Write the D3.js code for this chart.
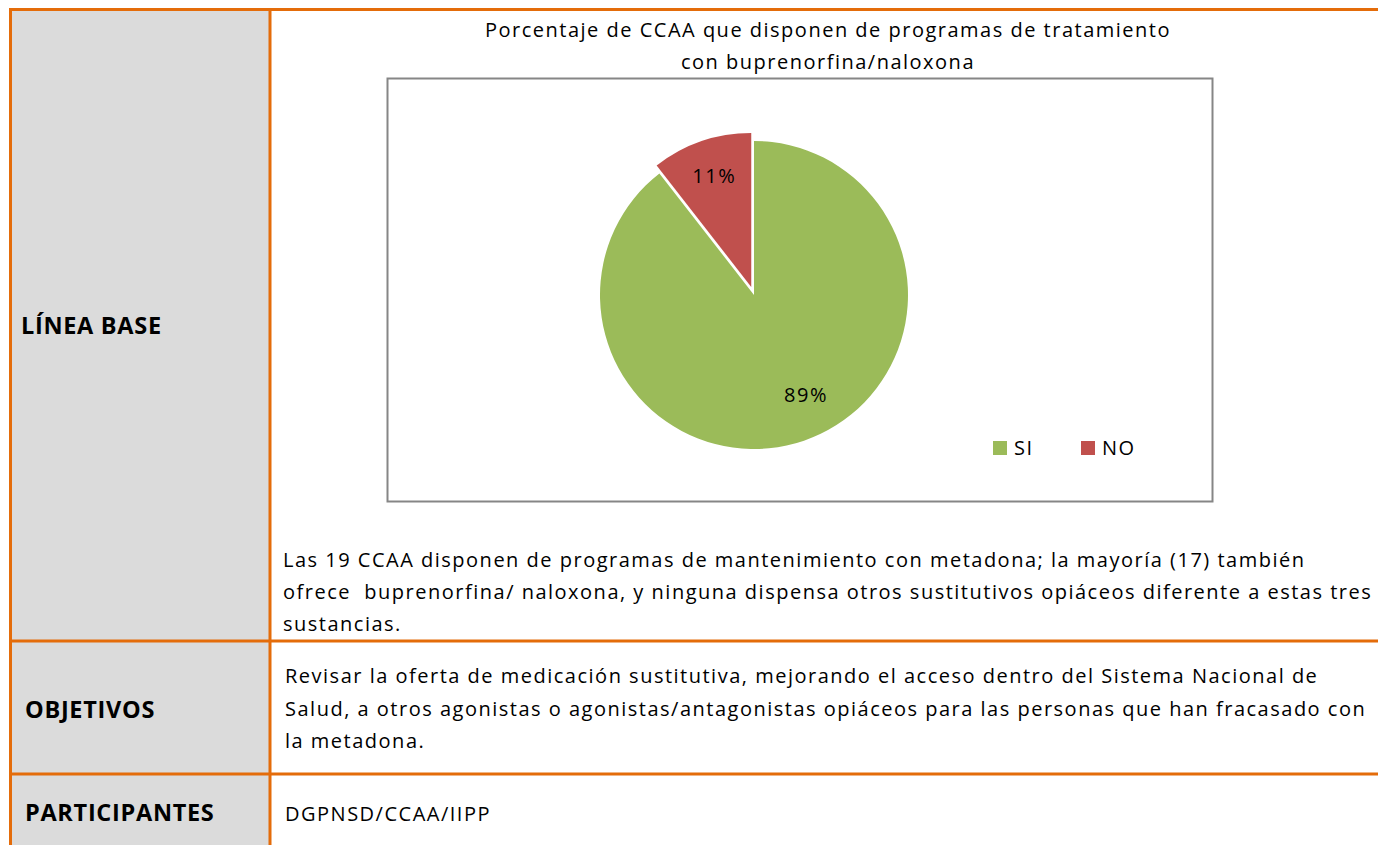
<!DOCTYPE html>
<html>
<head>
<meta charset="utf-8">
<script src="https://cdn.jsdelivr.net/npm/d3@7"></script>
<style>
  html, body { margin: 0; padding: 0; background: #fff; }
  svg { display: block; font-family: 'Open Sans', Lato, sans-serif; }
</style>
</head>
<body>
<div id="chart"></div>
<script>
// pie data
const categories = ['SI', 'NO'];
const counts = [17, 2];
const colorsList = ['#9BBB59', '#C0504D'];

const chartTitle = ['Porcentaje de CCAA que disponen de programas de tratamiento', 'con buprenorfina/naloxona'];

// table text
const rowLabels = ['LÍNEA BASE', 'OBJETIVOS', 'PARTICIPANTES'];
const lineaBaseText = [
  'Las 19 CCAA disponen de programas de mantenimiento con metadona; la mayoría (17) también',
  'ofrece  buprenorfina/ naloxona, y ninguna dispensa otros sustitutivos opiáceos diferente a estas tres',
  'sustancias.',
];
const objetivosText = [
  'Revisar la oferta de medicación sustitutiva, mejorando el acceso dentro del Sistema Nacional de',
  'Salud, a otros agonistas o agonistas/antagonistas opiáceos para las personas que han fracasado con',
  'la metadona.',
];
const participantesText = ['DGPNSD/CCAA/IIPP'];

const width = 1378;
const height = 845;
const orange = '#E46C0A';
const textSize = 20;
const textSpacing = 1.5;

const svg = d3.select('#chart').append('svg')
  .attr('width', width)
  .attr('height', height)
  .attr('viewBox', [0, 0, width, height]);

/* TABLE */

const table = { left: 10.5, split: 270, top: 9.5, rows: [9.5, 641, 774, height] };

svg.append('rect')
  .attr('x', table.left)
  .attr('y', table.top)
  .attr('width', table.split - table.left)
  .attr('height', height - table.top)
  .attr('fill', '#DBDBDB');

const grid = svg.append('g')
  .attr('stroke', orange)
  .attr('stroke-width', 3);

grid.selectAll('line.h')
  .data(table.rows.slice(0, 3))
  .join('line')
  .attr('class', 'h')
  .attr('x1', table.left - 1.5)
  .attr('x2', width)
  .attr('y1', (d) => d)
  .attr('y2', (d) => d);

grid.selectAll('line.v')
  .data([table.left, table.split])
  .join('line')
  .attr('class', 'v')
  .attr('x1', (d) => d)
  .attr('x2', (d) => d)
  .attr('y1', table.top)
  .attr('y2', height);

const labelY = [334, 717.5, 821];
const labelX = [21, 25, 25];
svg.append('g')
  .selectAll('text')
  .data(rowLabels)
  .join('text')
  .attr('x', (d, i) => labelX[i])
  .attr('y', (d, i) => labelY[i])
  .attr('font-size', 23.5)
  .attr('font-weight', 'bold')
  .attr('letter-spacing', 0.7)
  .attr('fill', '#000')
  .text((d) => d);

const paragraph = (lines, x, y0, lh) => svg.append('g')
  .selectAll('text')
  .data(lines)
  .join('text')
  .attr('x', x)
  .attr('y', (d, i) => y0 + i * lh)
  .attr('font-size', textSize)
  .attr('letter-spacing', textSpacing)
  .attr('fill', '#000')
  .style('white-space', 'pre')
  .text((d) => d);

paragraph(lineaBaseText, 283, 566.5, 32.3);
paragraph(objetivosText, 285, 683, 32.7);
paragraph(participantesText, 285, 821, 0);

/* PIE CHART */

svg.append('rect')
  .attr('x', 387.5)
  .attr('y', 78.5)
  .attr('width', 825)
  .attr('height', 423)
  .attr('fill', '#fff')
  .attr('stroke', '#868686')
  .attr('stroke-width', 2);

svg.append('g')
  .selectAll('text')
  .data(chartTitle)
  .join('text')
  .attr('x', 828)
  .attr('y', (d, i) => 37 + i * 32)
  .attr('text-anchor', 'middle')
  .attr('font-size', textSize)
  .attr('letter-spacing', textSpacing)
  .attr('fill', '#000')
  .text((d) => d);

const total = d3.sum(counts);
const data = categories.map((c, i) => ({ cat: c, value: counts[i], color: colorsList[i] }));

const radius = 154;
const center = [754, 295];
const explode = { NO: 8.5 };

const pie = d3.pie().sort(null).value((d) => d.value);
const arc = d3.arc().innerRadius(0).outerRadius(radius);
const labelArc = d3.arc().innerRadius(radius * 0.74).outerRadius(radius * 0.74);

const slices = svg.append('g')
  .attr('transform', `translate(${center[0]}, ${center[1]})`)
  .selectAll('g')
  .data(pie(data))
  .join('g')
  .attr('transform', (d) => {
    const off = explode[d.data.cat] || 0;
    const mid = (d.startAngle + d.endAngle) / 2;
    return `translate(${Math.sin(mid) * off}, ${-Math.cos(mid) * off})`;
  });

slices.append('path')
  .attr('d', arc)
  .attr('fill', (d) => d.data.color);

// Excel nudges the big slice's label a little to the right
const labelNudge = { SI: [15, -8], NO: [0, -3] };

slices.append('text')
  .attr('transform', (d) => {
    const [cx, cy] = labelArc.centroid(d);
    const [nx, ny] = labelNudge[d.data.cat];
    return `translate(${cx + nx}, ${cy + ny})`;
  })
  .attr('text-anchor', 'middle')
  .attr('dy', '0.35em')
  .attr('font-size', textSize)
  .attr('letter-spacing', textSpacing)
  .attr('fill', '#000')
  .text((d) => `${Math.round((d.data.value / total) * 100)}%`);

/* LEGEND */

const legend = svg.append('g')
  .selectAll('g')
  .data(data)
  .join('g')
  .attr('transform', (d, i) => `translate(${993 + i * 88}, 441)`);

legend.append('rect')
  .attr('width', 14)
  .attr('height', 14)
  .attr('fill', (d) => d.color);

legend.append('text')
  .attr('x', 21)
  .attr('y', 14)
  .attr('font-size', textSize)
  .attr('letter-spacing', textSpacing)
  .attr('fill', '#000')
  .text((d) => d.cat);
</script>
</body>
</html>
